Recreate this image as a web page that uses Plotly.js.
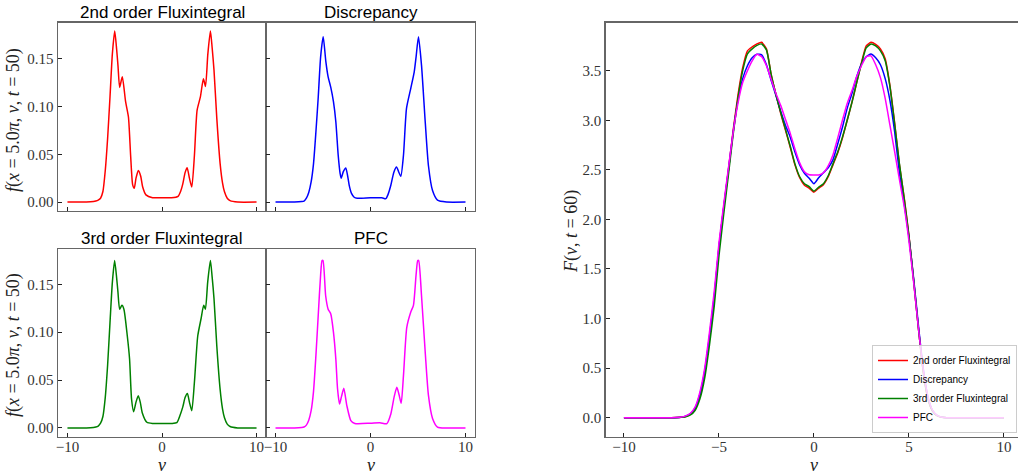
<!DOCTYPE html>
<html>
<head>
<meta charset="utf-8">
<script src="https://cdn.plot.ly/plotly-3.0.1.min.js"></script>
<style>html,body{margin:0;padding:0;background:#fff;} #chart{width:1018px;height:475px;}</style>
</head>
<body>
<div id="chart"></div>
<script>
// ---- Small panels: f(x = 5.0π, v, t = 50) ----
var v2nd = [-10, -8, -7.25, -7, -6.75, -6.5, -6.25, -6, -5.75, -5.5, -5.25, -5.0, -4.8, -4.65, -4.48, -4.2, -3.85, -3.55, -3.32, -3.1, -2.93, -2.75, -2.5, -2.25, -2.05, -1.7, -1.0, 0, 1.0, 1.7, 2.0, 2.2, 2.45, 2.66, 2.9, 3.15, 3.43, 3.71, 4.06, 4.38, 4.6, 4.85, 5.12, 5.3, 5.5, 5.8, 6.15, 6.4, 6.6, 6.9, 7.2, 8, 10];
var f2nd = [0, 0, 0.0005, 0.001, 0.002, 0.004, 0.011, 0.033, 0.067, 0.11, 0.155, 0.179, 0.16, 0.142, 0.120, 0.131, 0.105, 0.089, 0.049, 0.018, 0.0145, 0.025, 0.033, 0.027, 0.016, 0.0075, 0.0045, 0.0045, 0.0045, 0.006, 0.012, 0.019, 0.031, 0.036, 0.025, 0.0157, 0.049, 0.096, 0.110, 0.129, 0.121, 0.155, 0.179, 0.162, 0.138, 0.087, 0.04, 0.02, 0.011, 0.004, 0.0015, 0, 0];

var vDisc = [-10, -8, -7.25, -7, -6.75, -6.5, -6.25, -6, -5.75, -5.5, -5.25, -4.98, -4.7, -4.46, -4.18, -3.9, -3.65, -3.4, -3.2, -3.09, -2.85, -2.6, -2.4, -2.24, -2.0, -1.72, -1.4, 0, 1.2, 1.61, 1.85, 2.14, 2.45, 2.74, 2.95, 3.19, 3.47, 3.79, 4.24, 4.6, 4.8, 5.05, 5.37, 5.76, 6.1, 6.53, 7.05, 8, 10];
var fDisc = [0, 0, 0.0005, 0.001, 0.004, 0.01, 0.021, 0.04, 0.073, 0.11, 0.152, 0.173, 0.147, 0.131, 0.120, 0.105, 0.084, 0.049, 0.03, 0.025, 0.032, 0.0356, 0.027, 0.0175, 0.009, 0.005, 0.004, 0.0045, 0.0045, 0.0035, 0.008, 0.0175, 0.031, 0.0367, 0.032, 0.027, 0.049, 0.098, 0.119, 0.136, 0.152, 0.173, 0.143, 0.084, 0.038, 0.012, 0.002, 0, 0];

var v3rd = [-10, -8, -7.25, -7, -6.75, -6.5, -6.25, -6, -5.75, -5.5, -5.25, -5.01, -4.8, -4.66, -4.48, -4.24, -4.03, -3.67, -3.43, -3.22, -3.0, -2.75, -2.51, -2.3, -2.09, -1.6, -1.0, 0, 1.0, 1.57, 1.9, 2.2, 2.45, 2.69, 2.9, 3.15, 3.43, 3.78, 4.13, 4.41, 4.59, 4.83, 5.12, 5.3, 5.5, 5.8, 6.15, 6.4, 6.6, 6.9, 7.2, 8, 10];
var f3rd = [0, 0, 0.0005, 0.001, 0.002, 0.005, 0.012, 0.032, 0.066, 0.11, 0.152, 0.1747, 0.157, 0.142, 0.124, 0.128, 0.124, 0.096, 0.072, 0.030, 0.017, 0.027, 0.0337, 0.027, 0.016, 0.006, 0.0047, 0.0047, 0.0047, 0.0055, 0.013, 0.022, 0.032, 0.036, 0.027, 0.018, 0.048, 0.096, 0.114, 0.128, 0.124, 0.152, 0.1747, 0.158, 0.135, 0.085, 0.04, 0.02, 0.011, 0.004, 0.0015, 0, 0];

var vPFC = [-10, -8, -7.25, -7, -6.75, -6.5, -6.25, -6, -5.75, -5.5, -5.25, -5.1, -5.0, -4.72, -4.46, -4.18, -3.9, -3.65, -3.47, -3.26, -3.05, -2.81, -2.49, -2.07, -1.65, 0, 1.0, 1.72, 2.14, 2.5, 2.77, 3.0, 3.23, 3.47, 3.82, 4.24, 4.52, 4.8, 4.97, 5.07, 5.37, 5.76, 6.1, 6.53, 7.05, 8, 10];
var fPFC = [0, 0, 0.0005, 0.001, 0.003, 0.008, 0.018, 0.038, 0.075, 0.118, 0.16, 0.1747, 0.1747, 0.138, 0.124, 0.119, 0.100, 0.072, 0.041, 0.025, 0.033, 0.0414, 0.0233, 0.0077, 0.0047, 0.005, 0.0055, 0.0045, 0.0146, 0.033, 0.0425, 0.035, 0.0258, 0.0546, 0.105, 0.121, 0.128, 0.16, 0.1747, 0.1747, 0.138, 0.079, 0.034, 0.010, 0.001, 0, 0];

// ---- Right panel: F(v, t = 60) ----
var vF = [-10, -9, -8, -7.5, -7, -6.75, -6.5, -6.25, -6, -5.75, -5.5, -5.25, -5, -4.75, -4.5, -4.25, -4, -3.75, -3.5, -3.25, -3, -2.75, -2.5, -2.25, -2, -1.75, -1.5, -1.25, -1, -0.75, -0.5, -0.25, 0, 0.25, 0.5, 0.75, 1, 1.25, 1.5, 1.75, 2, 2.25, 2.5, 2.75, 3, 3.25, 3.5, 3.75, 4, 4.25, 4.5, 4.75, 5, 5.25, 5.5, 5.75, 6, 6.25, 6.5, 6.75, 7, 7.5, 8, 9, 10];
var F2nd = [0, 0, 0, 0, 0.004, 0.012, 0.035, 0.09, 0.22, 0.45, 0.8, 1.2, 1.72, 2.12, 2.5, 2.9, 3.25, 3.53, 3.7, 3.74, 3.77, 3.786, 3.72, 3.46, 3.26, 3.07, 2.9, 2.73, 2.55, 2.42, 2.345, 2.315, 2.275, 2.315, 2.35, 2.43, 2.55, 2.67, 2.82, 3.0, 3.18, 3.38, 3.58, 3.75, 3.786, 3.765, 3.72, 3.62, 3.35, 2.97, 2.55, 2.22, 1.84, 1.38, 0.9, 0.47, 0.19, 0.065, 0.018, 0.004, 0, 0, 0, 0, 0];
var FDisc = [0, 0, 0, 0, 0.005, 0.015, 0.04, 0.1, 0.24, 0.47, 0.82, 1.22, 1.72, 2.12, 2.5, 2.88, 3.2, 3.42, 3.55, 3.63, 3.665, 3.66, 3.56, 3.4, 3.25, 3.09, 2.95, 2.83, 2.68, 2.55, 2.465, 2.415, 2.36, 2.42, 2.47, 2.52, 2.6, 2.76, 2.93, 3.12, 3.27, 3.44, 3.57, 3.64, 3.668, 3.63, 3.56, 3.42, 3.2, 2.88, 2.47, 2.16, 1.82, 1.4, 0.93, 0.5, 0.21, 0.07, 0.02, 0.005, 0, 0, 0, 0, 0];
var F3rd = [0, 0, 0, 0, 0.003, 0.009, 0.027, 0.075, 0.19, 0.4, 0.73, 1.12, 1.63, 2.05, 2.45, 2.86, 3.22, 3.5, 3.67, 3.72, 3.755, 3.77, 3.71, 3.46, 3.26, 3.08, 2.91, 2.74, 2.56, 2.43, 2.36, 2.33, 2.285, 2.325, 2.36, 2.44, 2.56, 2.68, 2.83, 3.0, 3.18, 3.38, 3.57, 3.73, 3.77, 3.75, 3.7, 3.6, 3.34, 2.96, 2.56, 2.21, 1.83, 1.38, 0.9, 0.47, 0.19, 0.065, 0.018, 0.004, 0, 0, 0, 0, 0];
var FPFC = [0, 0, 0, 0, 0.006, 0.018, 0.045, 0.11, 0.26, 0.5, 0.86, 1.27, 1.76, 2.15, 2.52, 2.88, 3.17, 3.38, 3.5, 3.6, 3.665, 3.64, 3.55, 3.41, 3.27, 3.15, 3.01, 2.87, 2.71, 2.57, 2.48, 2.45, 2.448, 2.448, 2.47, 2.54, 2.65, 2.82, 3.0, 3.17, 3.3, 3.44, 3.55, 3.64, 3.65, 3.56, 3.43, 3.22, 2.95, 2.68, 2.4, 2.13, 1.78, 1.36, 0.9, 0.49, 0.21, 0.07, 0.02, 0.005, 0, 0, 0, 0, 0];

var names = ['2nd order Fluxintegral', 'Discrepancy', '3rd order Fluxintegral', 'PFC'];
var colors = ['#ff0000', '#0000ff', '#008000', '#ff00ff'];
var smallV = [v2nd, vDisc, v3rd, vPFC];
var smallF = [f2nd, fDisc, f3rd, fPFC];
var bigF = [F2nd, FDisc, F3rd, FPFC];
var smallTicksY = [0, 0.05, 0.10, 0.15];
var smallTicksX = [-10, 0, 10];
var bigTicksY = [0, 0.5, 1.0, 1.5, 2.0, 2.5, 3.0, 3.5];
var bigTicksX = [-10, -5, 0, 5, 10];

var traces = [];
for (var i = 0; i < 4; i++) {
  traces.push({
    x: smallV[i], y: smallF[i], type: 'scatter', mode: 'lines',
    xaxis: 'x' + (i === 0 ? '' : (i + 1)), yaxis: 'y' + (i === 0 ? '' : (i + 1)),
    line: {color: colors[i], width: 1.5, shape: 'spline', smoothing: 0.6},
    showlegend: false, hoverinfo: 'skip'
  });
}
for (var j = 0; j < 4; j++) {
  traces.push({
    x: vF, y: bigF[j], type: 'scatter', mode: 'lines', name: names[j],
    xaxis: 'x5', yaxis: 'y5',
    line: {color: colors[j], width: 1.5, shape: 'spline', smoothing: 0.5},
    hoverinfo: 'skip'
  });
}

var frame = '#666';
var tickFont = {family: 'Liberation Serif, DejaVu Serif, serif', size: 15, color: '#333'};
function ax(domain, range, tickvals, showLabels, anchor, fmt, isX) {
  var a = {
    domain: domain, range: range, anchor: anchor,
    tickvals: tickvals, tickformat: fmt, showticklabels: showLabels,
    ticks: 'inside', ticklen: 4, tickwidth: 1, tickcolor: '#222',
    showline: true, linecolor: frame, linewidth: 1.4, mirror: true,
    showgrid: false, zeroline: false, tickfont: tickFont, fixedrange: true
  };
  if (isX) a.ticklabelstandoff = -4;
  return a;
}
var xL = [58 / 1018, 266 / 1018], xR = [266 / 1018, 475 / 1018];
var yT = [1 - 211 / 475, 1 - 22.7 / 475], yB = [1 - 436.7 / 475, 1 - 249 / 475];
var rTop = [-0.0094, 0.1877], rBot = [-0.0091, 0.1868];

var layout = {
  width: 1018, height: 475,
  margin: {l: 0, r: 0, t: 0, b: 0},
  paper_bgcolor: '#fff', plot_bgcolor: '#fff',
  xaxis: ax(xL, [-11, 11], smallTicksX, false, 'y', '', true),
  yaxis: ax(yT, rTop, smallTicksY, true, 'x', '.2f', false),
  xaxis2: ax(xR, [-11, 11], smallTicksX, false, 'y2', '', true),
  yaxis2: ax(yT, rTop, smallTicksY, false, 'x2', '.2f', false),
  xaxis3: ax(xL, [-11, 11], smallTicksX, true, 'y3', '', true),
  yaxis3: ax(yB, rBot, smallTicksY, true, 'x3', '.2f', false),
  xaxis4: ax(xR, [-11, 11], smallTicksX, true, 'y4', '', true),
  yaxis4: ax(yB, rBot, smallTicksY, false, 'x4', '.2f', false),
  xaxis5: ax([605.7 / 1018, 1], [-10.96, 10.74], bigTicksX, true, 'y5', '', true),
  yaxis5: ax([1 - 436.7 / 475, 1 - 22.7 / 475], [-0.192, 3.984], bigTicksY, true, 'x5', '.1f', false),
  showlegend: true,
  legend: {
    x: 0.999, y: 1 - 433 / 475, xanchor: 'right', yanchor: 'bottom',
    xref: 'paper', yref: 'paper',
    bgcolor: 'rgba(255,255,255,0.8)', bordercolor: '#cccccc', borderwidth: 1,
    font: {family: 'Liberation Sans, Arial, sans-serif', size: 10, color: '#000'},
    tracegroupgap: 0
  },
  annotations: []
};
layout.yaxis5.mirror = false;

var titleFont = {family: 'Liberation Sans, Arial, sans-serif', size: 17, color: '#000'};
var titlePos = [[162 / 1018, 1 - 12 / 475], [370.5 / 1018, 1 - 12 / 475], [162 / 1018, 1 - 238 / 475], [370.5 / 1018, 1 - 238 / 475]];
for (var k = 0; k < 4; k++) {
  layout.annotations.push({text: names[k], x: titlePos[k][0], y: titlePos[k][1], xref: 'paper', yref: 'paper',
    xanchor: 'center', yanchor: 'middle', showarrow: false, font: titleFont});
}
var mathFont = {family: 'Liberation Serif, DejaVu Serif, serif', size: 18, color: '#222'};
var fLabel = '<i>f</i>(<i>x</i> = 5.0<i>π</i>, <i>v</i>, <i>t</i> = 50)';
layout.annotations.push({text: fLabel, x: 13 / 1018, y: 1 - 120 / 475, xref: 'paper', yref: 'paper', textangle: -90,
  xanchor: 'center', yanchor: 'middle', showarrow: false, font: mathFont});
layout.annotations.push({text: fLabel, x: 13 / 1018, y: 1 - 345 / 475, xref: 'paper', yref: 'paper', textangle: -90,
  xanchor: 'center', yanchor: 'middle', showarrow: false, font: mathFont});
layout.annotations.push({text: '<i>F</i>(<i>v</i>, <i>t</i> = 60)', x: 572 / 1018, y: 1 - 232 / 475, xref: 'paper', yref: 'paper', textangle: -90,
  xanchor: 'center', yanchor: 'middle', showarrow: false, font: mathFont});
var vxs = [162, 371, 814];
for (var m = 0; m < 3; m++) {
  layout.annotations.push({text: '<i>v</i>', x: vxs[m] / 1018, y: 1 - 465 / 475, xref: 'paper', yref: 'paper',
    xanchor: 'center', yanchor: 'middle', showarrow: false, font: {family: 'Liberation Serif, serif', size: 18, color: '#222'}});
}

Plotly.newPlot('chart', traces, layout, {staticPlot: true, displayModeBar: false});
</script>
</body>
</html>
